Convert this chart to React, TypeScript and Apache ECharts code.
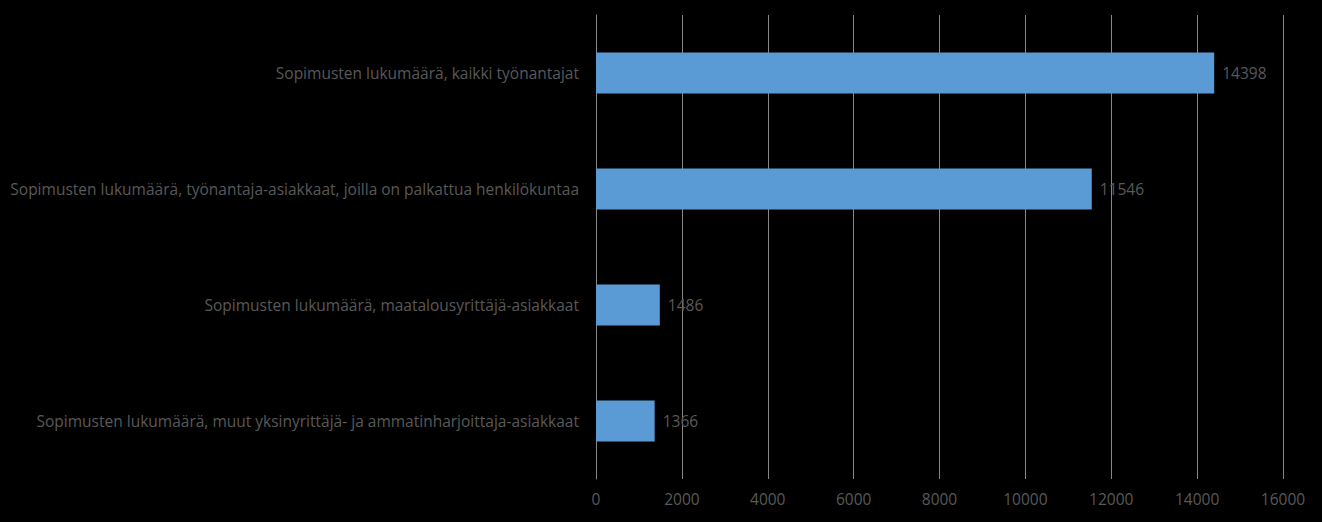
import React, { useEffect, useRef } from 'react';
import * as echarts from 'echarts';

const categories: string[] = [
  'Sopimusten lukumäärä, kaikki työnantajat',
  'Sopimusten lukumäärä, työnantaja-asiakkaat, joilla on palkattua henkilökuntaa',
  'Sopimusten lukumäärä, maatalousyrittäjä-asiakkaat',
  'Sopimusten lukumäärä, muut yksinyrittäjä- ja ammatinharjoittaja-asiakkaat',
];
const values: number[] = [14398, 11546, 1486, 1366];
const axisMin = 0;
const axisMax = 16000;
const axisStep = 2000;

const FONT = 'Open Sans';
const TEXT = '#595959';
const SIZE = 15.5;

const App: React.FC = () => {
  const chartRef = useRef<HTMLDivElement | null>(null);

  useEffect(() => {
    if (!chartRef.current) return;
    const chart = echarts.init(chartRef.current, undefined, { renderer: 'svg' });

    const option: echarts.EChartsOption = {
      animation: false,
      backgroundColor: '#000000',
      grid: { left: 596, right: 39, top: 15, bottom: 43, containLabel: false },
      xAxis: {
        type: 'value',
        min: axisMin,
        max: axisMax,
        interval: axisStep,
        axisLine: { show: false },
        axisTick: { show: false },
        axisLabel: {
          color: TEXT,
          fontFamily: FONT,
          fontSize: SIZE,
          margin: 12,
          formatter: (v: number) => String(v),
        },
        splitLine: { show: true, lineStyle: { color: '#868686', width: 1 } },
      },
      yAxis: {
        type: 'category',
        data: categories,
        inverse: true,
        axisLine: { show: true, lineStyle: { color: '#868686', width: 1 } },
        axisTick: { show: false },
        axisLabel: { color: TEXT, fontFamily: FONT, fontSize: SIZE, margin: 17 },
      },
      series: [
        {
          type: 'bar',
          data: values,
          barWidth: 41,
          itemStyle: { color: '#5B9BD5' },
          label: {
            show: true,
            position: 'right',
            distance: 8,
            color: TEXT,
            fontFamily: FONT,
            fontSize: SIZE,
          },
        },
      ],
    };

    chart.setOption(option);
    return () => {
      chart.dispose();
    };
  }, []);

  return (
    <div
      ref={chartRef}
      style={{ position: 'fixed', left: 0, top: 0, width: 1322, height: 522 }}
    ></div>
  );
};

export default App;
